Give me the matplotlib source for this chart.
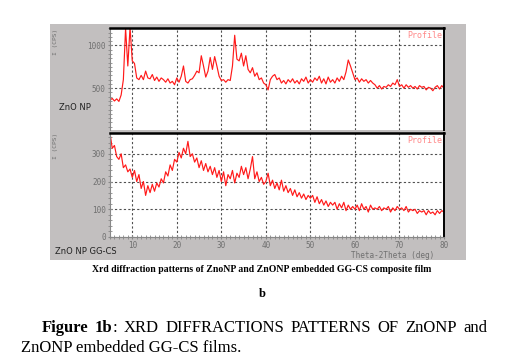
# XRD patterns of ZnO NP and ZnO NP embedded GG-CS film
import numpy as np
import matplotlib.pyplot as plt
from matplotlib.patches import Rectangle

# 2theta (deg), 0.5 deg steps from 5 to 80
two_theta = np.arange(5.0, 80.5, 0.5)

# ZnO NP intensity (CPS)
zno_np = [
    360, 380, 350, 375, 345, 420, 600, 1200, 760, 1210,
    820, 790, 620, 600, 650, 600, 700, 620, 610, 660,
    590, 630, 580, 620, 600, 570, 610, 560, 580, 540,
    620, 570, 640, 760, 580, 560, 600, 610, 650, 700,
    680, 880, 760, 630, 700, 860, 720, 870, 760, 640,
    590, 600, 570, 600, 590, 760, 1120, 840, 820, 910,
    760, 880, 720, 680, 740, 640, 680, 600, 620, 560,
    540, 480, 600, 640, 660, 600, 620, 560, 590, 550,
    600, 570, 610, 560, 590, 550, 610, 580, 630, 560,
    600, 570, 620, 590, 640, 560, 610, 550, 630, 570,
    600, 560, 620, 580, 640, 600, 690, 830, 760, 680,
    600, 620, 570, 610, 580, 600, 560, 590, 560, 540,
    500, 530, 490, 520, 510, 540, 520, 560, 540, 600,
    520, 540, 500, 540, 510, 530, 500, 520, 490, 530,
    510, 520, 480, 510, 500, 470, 510, 530, 490, 530,
    500,
]

# ZnO NP GG-CS intensity (CPS)
zno_ggcs = [
    375, 320, 330, 290, 280, 300, 250, 260, 235, 245,
    215, 240, 200, 225, 175, 200, 150, 185, 160, 190,
    165, 195, 180, 210, 195, 235, 220, 260, 240, 280,
    270, 305, 285, 320, 300, 345, 290, 300, 270, 285,
    250, 275, 240, 265, 235, 255, 225, 250, 215, 240,
    200, 235, 185, 225, 210, 240, 195, 230, 215, 255,
    225, 250, 210, 245, 290, 210, 235, 200, 215, 190,
    200, 230, 185, 205, 175, 195, 170, 205, 165, 185,
    160, 175, 150, 170, 145, 160, 140, 155, 135, 150,
    140, 150, 125, 145, 120, 135, 115, 130, 110, 125,
    115, 125, 100, 120, 105, 125, 95, 115, 100, 110,
    100, 115, 95, 120, 100, 110, 90, 115, 100, 105,
    100, 110, 95, 105, 100, 110, 90, 105, 95, 110,
    100, 105, 95, 110, 90, 100, 95, 100, 85, 95,
    90, 95, 80, 95, 85, 90, 80, 95, 85, 95,
    90,
]

top_yticks = [500, 1000]
bot_yticks = [0, 100, 200, 300]
xticks = [10, 20, 30, 40, 50, 60, 70, 80]

W, H = 524, 363
fig = plt.figure(figsize=(W / 100, H / 100), dpi=100)
fig.patch.set_facecolor('white')

# grey panel behind the two plots
fig.patches.append(Rectangle((50 / W, 1 - 260 / H), 416 / W, 236 / H,
                             transform=fig.transFigure, facecolor='#c2bfbf',
                             edgecolor='none', zorder=-10))

mono = 'DejaVu Sans Mono'
tick_col = '#707070'
line_col = '#ff1a1a'
grid_kw = dict(color='#505050', linestyle=(0, (2, 2)), linewidth=0.8)


def style_axes(ax):
    ax.set_facecolor('white')
    ax.set_xlim(5, 80)
    ax.set_xticks(xticks)
    ax.set_xticks(np.arange(5, 81, 1), minor=True)
    ax.grid(True, which='major', **grid_kw)
    for s in ['top', 'right']:
        ax.spines[s].set_color('black')
    ax.spines['top'].set_linewidth(1.8)
    ax.spines['right'].set_linewidth(1.4)
    ax.spines['left'].set_color('#888888')
    ax.tick_params(which='both', direction='inout', colors='#888888',
                   labelcolor=tick_col, labelsize=5.5, pad=1.5)
    ax.tick_params(which='major', length=3)
    ax.tick_params(which='minor', length=2.5)
    ax.text(0.995, 0.97, 'Profile', transform=ax.transAxes, ha='right', va='top',
            fontsize=6, family=mono, color='#ff8a8a')


# top plot: ZnO NP
ax1 = fig.add_axes([110 / W, 1 - 130 / H, 334 / W, 102 / H])
ax1.plot(two_theta, zno_np, color=line_col, lw=0.85)
ax1.set_ylim(10, 1205)
ax1.set_yticks(top_yticks)
ax1.set_yticks(np.arange(50, 1201, 50), minor=True)
style_axes(ax1)
ax1.spines['bottom'].set_visible(False)
ax1.tick_params(axis='x', which='both', bottom=False, labelbottom=False)
for lab in ax1.get_yticklabels():
    lab.set_fontfamily(mono)

# bottom plot: ZnO NP GG-CS
ax2 = fig.add_axes([110 / W, 1 - 237 / H, 334 / W, 104 / H])
ax2.plot(two_theta, zno_ggcs, color=line_col, lw=0.85)
ax2.set_ylim(0, 375)
ax2.set_yticks(bot_yticks)
ax2.set_yticks(np.arange(0, 376, 20), minor=True)
style_axes(ax2)
ax2.spines['bottom'].set_color('#888888')
for lab in ax2.get_xticklabels() + ax2.get_yticklabels():
    lab.set_fontfamily(mono)

# panel texts
fig.text(55 / W, 1 - 42 / H, 'I (CPS)', rotation=90, ha='center', va='center',
         fontsize=4.5, family=mono, color=tick_col)
fig.text(55 / W, 1 - 146 / H, 'I (CPS)', rotation=90, ha='center', va='center',
         fontsize=4.5, family=mono, color=tick_col)
fig.text(59 / W, 1 - 108 / H, 'ZnO NP', ha='left', va='center',
         fontsize=6, color='#222222')
fig.text(55 / W, 1 - 251 / H, 'ZnO NP GG-CS', ha='left', va='center',
         fontsize=6, color='#222222')
fig.text(434 / W, 1 - 255 / H, 'Theta-2Theta (deg)', ha='right', va='center',
         fontsize=5.5, family=mono, color=tick_col)

# captions
serif = 'Liberation Serif'
fig.text(262 / W, 1 - 270 / H,
         'Xrd diffraction patterns of ZnoNP and ZnONP embedded GG-CS composite film',
         ha='center', va='center', fontsize=7, fontweight='bold', family=serif)
fig.text(262 / W, 1 - 294 / H, 'b', ha='center', va='center',
         fontsize=9, fontweight='bold', family=serif)

# first caption line is justified between x=42 and x=487
renderer = fig.canvas.get_renderer()
words = [[('Figure', 'bold')], [('1b', 'bold'), (':', 'normal')], [('XRD', 'normal')],
         [('DIFFRACTIONS', 'normal')], [('PATTERNS', 'normal')], [('OF', 'normal')],
         [('ZnONP', 'normal')], [('and', 'normal')]]
y1 = 1 - 328 / H
groups = []
total = 0
for grp in words:
    items = []
    for txt, wt in grp:
        t = fig.text(0, y1, txt, ha='left', va='center', fontsize=12,
                     fontweight=wt, family=serif)
        w = t.get_window_extent(renderer=renderer).width
        items.append((t, w))
        total += w
    groups.append(items)
gap = (487 - 42 - total) / (len(groups) - 1)
x = 42
for items in groups:
    for t, w in items:
        t.set_x(x / W)
        x += w
    x += gap

fig.text(21 / W, 1 - 348 / H, 'ZnONP embedded GG-CS films.', ha='left', va='center',
         fontsize=12, family=serif)

fig.savefig('out.png', dpi=100)
